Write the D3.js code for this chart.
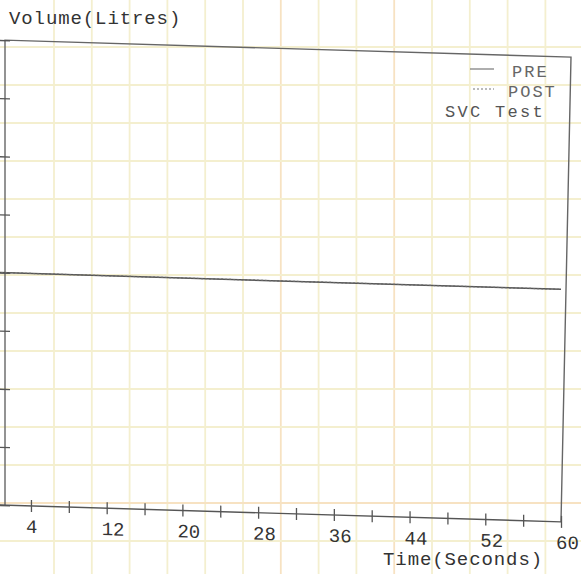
<!DOCTYPE html>
<html>
<head>
<meta charset="utf-8">
<script src="https://cdn.jsdelivr.net/npm/d3@7"></script>
<style>
  body { margin: 0; background: #fff; }
  text { font-family: "Liberation Mono", "DejaVu Sans Mono", monospace; }
</style>
</head>
<body>
<script>
const width = 581;
const height = 574;

// SVC test traces (time in s, volume in L) - both flat at zero
const preTime = [0, 60];
const preVolume = [0, 0];
const postTime = [0, 60];
const postVolume = [0, 0];

const xTickValues = [4, 8, 12, 16, 20, 24, 28, 32, 36, 40, 44, 48, 52, 56, 60];
const xTickLabels = [4, 12, 20, 28, 36, 44, 52, 60];
const yTickValues = [-4, -3, -2, -1, 0, 1, 2, 3, 4];

const legendItems = ["PRE", "POST"];

let svg = d3.select('body')
            .append('svg')
            .attr('width', width)
            .attr('height', height);

// graph paper underneath the print
let paper = svg.append('g');
d3.range(54, width, 37.8).forEach((gx, i) => {
    paper.append('line')
         .attr('x1', gx).attr('x2', gx)
         .attr('y1', 0).attr('y2', height)
         .attr('stroke', (i == 6 || i == 9) ? '#f7e2c2' : '#f4efcf')
         .attr('stroke-width', 1.8);
});
d3.range(47, height, 38).forEach((gy, i) => {
    paper.append('line')
         .attr('x1', 0).attr('x2', width)
         .attr('y1', gy).attr('y2', gy)
         .attr('stroke', (i == 12) ? '#f7e2c2' : '#f4efcf')
         .attr('stroke-width', 1.8);
});

let x = d3.scaleLinear().domain([0, 60]).range([-6.9, 561]);
let y = d3.scaleLinear().domain([-4, 4]).range([505, 40]);

// the printout sits slightly skewed on the scan
let chart = svg.append('g').attr('transform', 'skewY(1.72)');

// frame (left, top, right)
chart.append('path')
     .attr('d', `M5,${y(-4)} L5,${y(4)} L${x(60) + 10},${y(4)} L${x(60)},${y(-4)}`)
     .attr('fill', 'none')
     .attr('stroke', '#666')
     .attr('stroke-width', 1.4);

// x axis
let xAxis = chart.append('g')
     .attr('transform', `translate(0,${y(-4)})`)
     .call(d3.axisBottom(x).tickValues(xTickValues).tickSize(6).tickFormat(''));
xAxis.select('.domain')
     .attr('d', `M0,0H${x(60)}`)
     .attr('stroke', '#555')
     .attr('stroke-width', 1.4);
xAxis.selectAll('.tick line')
     .attr('y1', -6).attr('y2', 6)
     .attr('stroke', '#555')
     .attr('stroke-width', 1.3);

chart.selectAll('.xlabel')
     .data(xTickLabels)
     .enter()
     .append('text')
     .attr('class', 'xlabel')
     .attr('x', d => x(d) - 5)
     .attr('y', y(-4) + 27)
     .attr('font-size', 19)
     .attr('fill', '#333')
     .text(d => d);

// y axis, ticks only
let yAxis = chart.append('g')
     .attr('transform', 'translate(5,0)')
     .call(d3.axisLeft(y).tickValues(yTickValues).tickSize(5).tickFormat(''));
yAxis.select('.domain').remove();
yAxis.selectAll('.tick line')
     .attr('x1', -5).attr('x2', 5)
     .attr('stroke', '#555')
     .attr('stroke-width', 1.3);

// traces
let line = d3.line().x(d => x(d[0])).y(d => y(d[1]));
chart.append('path')
     .datum(preTime.map((t, i) => [t, preVolume[i]]))
     .attr('d', line)
     .attr('fill', 'none')
     .attr('stroke', '#555')
     .attr('stroke-width', 1.5);
chart.append('path')
     .datum(postTime.map((t, i) => [t, postVolume[i]]))
     .attr('d', line)
     .attr('fill', 'none')
     .attr('stroke', '#666')
     .attr('stroke-width', 1.2)
     .attr('stroke-dasharray', '2,2');

// titles
svg.append('text')
   .attr('x', 9).attr('y', 24)
   .attr('font-size', 19)
   .attr('letter-spacing', 0.9)
   .attr('fill', '#333')
   .text('Volume(Litres)');

svg.append('text')
   .attr('x', 543).attr('y', 565)
   .attr('text-anchor', 'end')
   .attr('font-size', 19)
   .attr('letter-spacing', 0.9)
   .attr('fill', '#333')
   .text('Time(Seconds)');

// legend
let legend = svg.append('g');
legend.selectAll('text.item')
      .data(legendItems)
      .enter()
      .append('text')
      .attr('class', 'item')
      .attr('x', (d, i) => i == 0 ? 512 : 508)
      .attr('y', (d, i) => 77 + i * 20)
      .attr('font-size', 17)
      .attr('letter-spacing', 2)
      .attr('fill', '#666')
      .text(d => d);
legend.selectAll('line.item')
      .data(legendItems)
      .enter()
      .append('line')
      .attr('class', 'item')
      .attr('x1', (d, i) => 470 + i * 3).attr('x2', 494)
      .attr('y1', (d, i) => 69 + i * 20).attr('y2', (d, i) => 69 + i * 20)
      .attr('stroke', '#777')
      .attr('stroke-width', 1.2)
      .attr('stroke-dasharray', (d, i) => i == 0 ? null : '2,2');
legend.append('text')
      .attr('x', 545).attr('y', 117)
      .attr('text-anchor', 'end')
      .attr('font-size', 17)
      .attr('letter-spacing', 2.3)
      .attr('fill', '#555')
      .text('SVC Test');
</script>
</body>
</html>
